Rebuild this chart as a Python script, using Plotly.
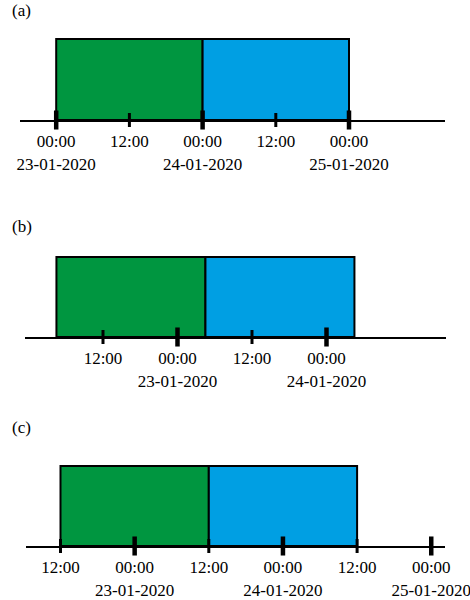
import plotly.graph_objects as go
from datetime import datetime, timedelta

# ---------------- data ----------------
panel_labels = ["(a)", "(b)", "(c)"]

green_start = ["2020-01-23 00:00", "2020-01-22 04:30", "2020-01-22 12:00"]
green_end = ["2020-01-24 00:00", "2020-01-23 04:30", "2020-01-23 12:00"]
blue_start = ["2020-01-24 00:00", "2020-01-23 04:30", "2020-01-23 12:00"]
blue_end = ["2020-01-25 00:00", "2020-01-24 04:30", "2020-01-24 12:00"]

major_ticks_a = ["2020-01-23 00:00", "2020-01-24 00:00", "2020-01-25 00:00"]
minor_ticks_a = ["2020-01-23 12:00", "2020-01-24 12:00"]
major_ticks_b = ["2020-01-23 00:00", "2020-01-24 00:00"]
minor_ticks_b = ["2020-01-22 12:00", "2020-01-23 12:00"]
major_ticks_c = ["2020-01-23 00:00", "2020-01-24 00:00", "2020-01-25 00:00"]
minor_ticks_c = ["2020-01-22 12:00", "2020-01-23 12:00", "2020-01-24 12:00"]

label_vals_a = ["2020-01-23 00:00", "2020-01-23 12:00", "2020-01-24 00:00",
                "2020-01-24 12:00", "2020-01-25 00:00"]
label_text_a = ["00:00<br>23-01-2020", "12:00", "00:00<br>24-01-2020",
                "12:00", "00:00<br>25-01-2020"]
label_vals_b = ["2020-01-22 12:00", "2020-01-23 00:00", "2020-01-23 12:00",
                "2020-01-24 00:00"]
label_text_b = ["12:00", "00:00<br>23-01-2020", "12:00", "00:00<br>24-01-2020"]
label_vals_c = ["2020-01-22 12:00", "2020-01-23 00:00", "2020-01-23 12:00",
                "2020-01-24 00:00", "2020-01-24 12:00", "2020-01-25 00:00"]
label_text_c = ["12:00", "00:00<br>23-01-2020", "12:00",
                "00:00<br>24-01-2020", "12:00", "00:00<br>25-01-2020"]

major_ticks = [major_ticks_a, major_ticks_b, major_ticks_c]
minor_ticks = [minor_ticks_a, minor_ticks_b, minor_ticks_c]
label_vals = [label_vals_a, label_vals_b, label_vals_c]
label_text = [label_text_a, label_text_b, label_text_c]

GREEN = "#009640"
BLUE = "#009FE3"

# ---------------- layout geometry (pixels) ----------------
W, H = 470, 600
geo = [
    dict(ref="2020-01-23 00:00", ref_px=56.2, ppd=146.4, x0=20, x1=445, top=39, axis=120, lab=10),
    dict(ref="2020-01-22 12:00", ref_px=103, ppd=149, x0=25, x1=446, top=257, axis=337, lab=226),
    dict(ref="2020-01-22 12:00", ref_px=60.5, ppd=148.3, x0=26, x1=445, top=466, axis=546, lab=427),
]
FMT = "%Y-%m-%d %H:%M"
YMAX = 1.05
FONT = "Liberation Serif, Times New Roman, serif"


def parse(s):
    return datetime.strptime(s, FMT)


fig = go.Figure()
annotations = []
for i in range(3):
    g = geo[i]
    sfx = "" if i == 0 else str(i + 1)
    xa, ya = "x" + sfx, "y" + sfx

    # bars
    for starts, ends, col in ((green_start, green_end, GREEN), (blue_start, blue_end, BLUE)):
        s, e = parse(starts[i]), parse(ends[i])
        fig.add_trace(go.Bar(
            orientation="h", base=[starts[i]],
            x=[(e - s).total_seconds() * 1000], y=[0.5], width=[1],
            marker=dict(color=col, line=dict(color="black", width=2)),
            xaxis=xa, yaxis=ya, showlegend=False, hoverinfo="skip"))

    # tick marks crossing the axis line
    fig.add_trace(go.Scatter(
        x=minor_ticks[i], y=[0] * len(minor_ticks[i]), mode="markers",
        marker=dict(symbol="line-ns", size=10, line=dict(color="black", width=3)),
        cliponaxis=False, xaxis=xa, yaxis=ya, showlegend=False, hoverinfo="skip"))
    fig.add_trace(go.Scatter(
        x=major_ticks[i], y=[0] * len(major_ticks[i]), mode="markers",
        marker=dict(symbol="line-ns", size=13.6, line=dict(color="black", width=4.5)),
        cliponaxis=False, xaxis=xa, yaxis=ya, showlegend=False, hoverinfo="skip"))

    # axes
    ref = parse(g["ref"])
    left = ref + timedelta(days=(g["x0"] - g["ref_px"]) / g["ppd"])
    right = ref + timedelta(days=(g["x1"] - g["ref_px"]) / g["ppd"])
    bar_h = g["axis"] - g["top"]
    dom_top = g["axis"] - bar_h * YMAX
    fig.update_layout(**{
        "xaxis" + sfx: dict(
            type="date", domain=[g["x0"] / W, g["x1"] / W],
            range=[left.strftime("%Y-%m-%d %H:%M:%S"), right.strftime("%Y-%m-%d %H:%M:%S")],
            anchor=ya, showline=True, linewidth=2, linecolor="black",
            showgrid=False, zeroline=False, ticks="", ticklen=0,
            tickvals=label_vals[i], ticktext=label_text[i],
            tickfont=dict(family=FONT, size=17, color="black"),
            ticklabelstandoff=5, ticklabeloverflow="allow",
            automargin=False, fixedrange=True),
        "yaxis" + sfx: dict(
            domain=[1 - g["axis"] / H, 1 - dom_top / H], range=[0, YMAX],
            anchor=xa, visible=False, automargin=False, fixedrange=True),
    })
    annotations.append(dict(
        text=panel_labels[i], xref="paper", yref="paper",
        x=10 / W, y=1 - g["lab"] / H, xanchor="left", yanchor="middle",
        showarrow=False, font=dict(family=FONT, size=17, color="black")))

fig.update_layout(
    width=W, height=H, margin=dict(l=0, r=0, t=0, b=0, autoexpand=False),
    paper_bgcolor="white", plot_bgcolor="white",
    barmode="overlay", annotations=annotations, showlegend=False,
)
fig.write_html(
    "out.html",
    config={"displayModeBar": False},
    post_script="document.body.style.margin='0';document.body.style.overflow='hidden';",
)
